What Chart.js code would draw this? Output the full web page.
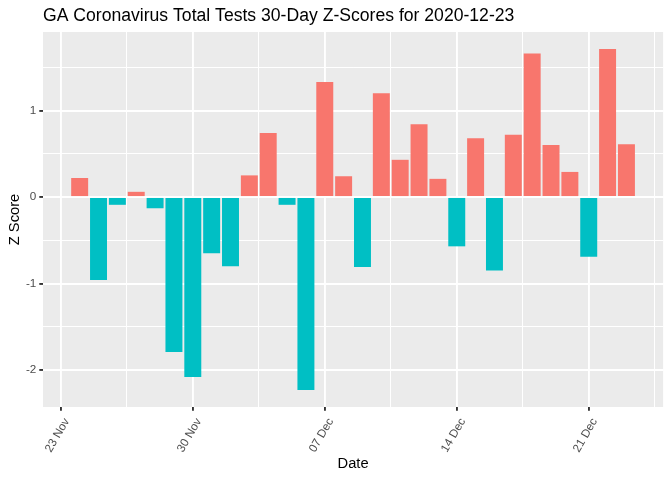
<!DOCTYPE html>
<html>
<head>
<meta charset="utf-8">
<script src="https://cdn.jsdelivr.net/npm/chart.js@4.4.0/dist/chart.umd.min.js"></script>
<style>
  html, body { margin: 0; padding: 0; background: #fff; }
  #wrap { width: 672px; height: 480px; }
</style>
</head>
<body>
<div id="wrap"><canvas id="chart"></canvas></div>
<script>
// daily z-scores, one bar per day
const dates = [
  "2020-11-24", "2020-11-25", "2020-11-26", "2020-11-27", "2020-11-28", "2020-11-29",
  "2020-11-30", "2020-12-01", "2020-12-02", "2020-12-03", "2020-12-04", "2020-12-05",
  "2020-12-06", "2020-12-07", "2020-12-08", "2020-12-09", "2020-12-10", "2020-12-11",
  "2020-12-12", "2020-12-13", "2020-12-14", "2020-12-15", "2020-12-16", "2020-12-17",
  "2020-12-18", "2020-12-19", "2020-12-20", "2020-12-21", "2020-12-22", "2020-12-23"
];
const zScores = [
  0.22, -0.96, -0.09, 0.06, -0.13, -1.79,
  -2.08, -0.65, -0.80, 0.25, 0.74, -0.09,
  -2.23, 1.33, 0.24, -0.81, 1.20, 0.43,
  0.84, 0.21, -0.57, 0.68, -0.85, 0.72,
  1.66, 0.60, 0.29, -0.69, 1.71, 0.61
];
const xTickDates = ["2020-11-23", "2020-11-30", "2020-12-07", "2020-12-14", "2020-12-21"];
const xTickLabels = ["23 Nov", "30 Nov", "07 Dec", "14 Dec", "21 Dec"];
const yTicks = [-2, -1, 0, 1];

const RED = "#F8766D";
const BLUE = "#00BFC4";

const origin = Date.parse(xTickDates[0]);
const dayOf = d => (Date.parse(d) - origin) / 86400000;

const xs = dates.map(dayOf);
const xMajor = xTickDates.map(dayOf);

// ggplot style 5% expansion
const xLo = Math.min(...xs) - 0.45, xHi = Math.max(...xs) + 0.45;
const xMin = xLo - (xHi - xLo) * 0.05, xMax = xHi + (xHi - xLo) * 0.05;
const yLo = Math.min(...zScores), yHi = Math.max(...zScores);
const yMin = yLo - (yHi - yLo) * 0.05, yMax = yHi + (yHi - yLo) * 0.05;

// major + minor (midway) break positions inside the range
function withMinor(major, lo, hi) {
  const step = major[1] - major[0];
  const all = major.slice();
  all.push(major[0] - step / 2);
  for (let i = 0; i < major.length; i++) all.push(major[i] + step / 2);
  return all.filter(v => v >= lo && v <= hi).sort((a, b) => a - b);
}
const xAll = withMinor(xMajor, xMin, xMax);
const yAll = withMinor(yTicks, yMin, yMax);

const panelBg = {
  id: "panelBg",
  beforeDraw(chart) {
    const { ctx, chartArea: a } = chart;
    ctx.save();
    ctx.fillStyle = "#EBEBEB";
    ctx.fillRect(a.left, a.top, a.right - a.left, a.bottom - a.top);
    ctx.restore();
  }
};

Chart.defaults.font.family = "'Liberation Sans', Arial, sans-serif";

new Chart(document.getElementById("chart"), {
  type: "bar",
  data: {
    datasets: [{
      data: xs.map((x, i) => ({ x: x, y: zScores[i] })),
      backgroundColor: zScores.map(v => v > 0 ? RED : BLUE),
      borderWidth: 0,
      barPercentage: 0.9,
      categoryPercentage: 1.0
    }]
  },
  options: {
    responsive: true,
    maintainAspectRatio: false,
    devicePixelRatio: 1,
    animation: false,
    layout: { padding: { left: 0, right: 8, top: 0, bottom: 0 } },
    plugins: {
      legend: { display: false },
      tooltip: { enabled: false },
      title: {
        display: true,
        text: "GA Coronavirus Total Tests 30-Day Z-Scores for 2020-12-23",
        align: "start",
        fullSize: false,
        color: "#000000",
        font: { size: 17.6, weight: "normal" },
        padding: { top: 5.4, bottom: 5.5 }
      }
    },
    scales: {
      x: {
        type: "linear",
        min: xMin,
        max: xMax,
        offset: false,
        afterBuildTicks: s => { s.ticks = xAll.map(v => ({ value: v })); },
        afterFit: s => { s.height = 73; },
        border: { display: false },
        grid: {
          offset: false,
          color: "#FFFFFF",
          lineWidth: c => xMajor.includes(c.tick.value) ? 1.9 : 1,
          tickLength: 3.7,
          tickWidth: 1.9,
          tickColor: c => xMajor.includes(c.tick.value) ? "#333333" : "rgba(0,0,0,0)"
        },
        ticks: {
          autoSkip: false,
          minRotation: 60,
          maxRotation: 60,
          padding: 5,
          labelOffset: 6,
          color: "#4D4D4D",
          font: { size: 11.7 },
          callback: v => {
            const i = xMajor.indexOf(v);
            return i >= 0 ? xTickLabels[i] : "";
          }
        },
        title: {
          display: true,
          text: "Date",
          color: "#000000",
          font: { size: 14.7 },
          padding: { top: 0, bottom: 7.2 }
        }
      },
      y: {
        type: "linear",
        min: yMin,
        max: yMax,
        afterBuildTicks: s => { s.ticks = yAll.map(v => ({ value: v })); },
        afterFit: s => { s.width = 43; },
        border: { display: false },
        grid: {
          color: "#FFFFFF",
          lineWidth: c => yTicks.includes(c.tick.value) ? 1.9 : 1,
          tickLength: 3.7,
          tickWidth: 1.9,
          tickColor: c => yTicks.includes(c.tick.value) ? "#333333" : "rgba(0,0,0,0)"
        },
        ticks: {
          autoSkip: false,
          padding: 3,
          color: "#4D4D4D",
          font: { size: 11.7 },
          callback: v => yTicks.includes(v) ? String(v) : ""
        },
        title: {
          display: true,
          text: "Z Score",
          color: "#000000",
          font: { size: 14.7 },
          padding: { top: 5.7, bottom: 0 }
        }
      }
    }
  },
  plugins: [panelBg]
});
</script>
</body>
</html>
